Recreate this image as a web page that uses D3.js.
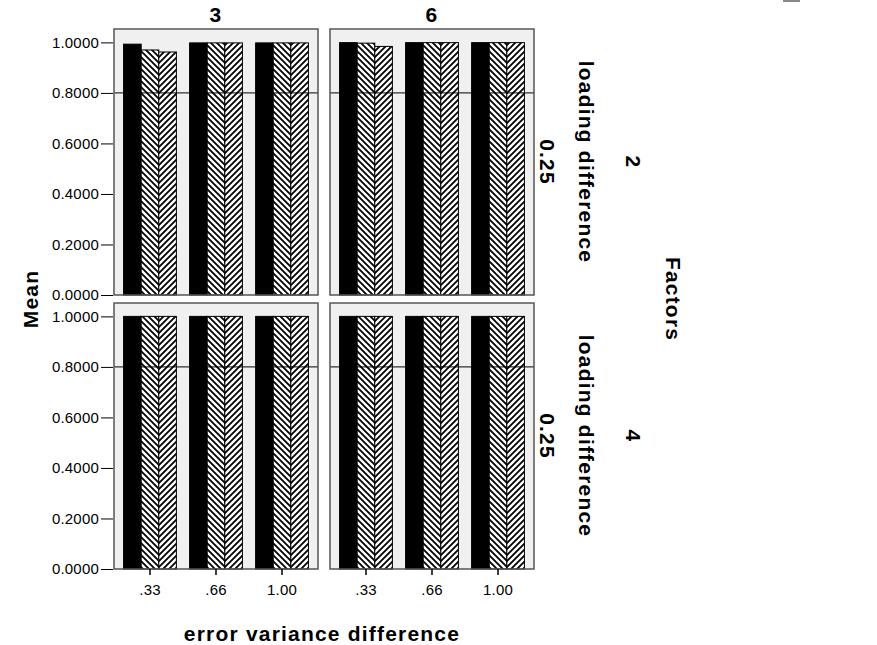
<!DOCTYPE html>
<html><head><meta charset="utf-8">
<script src="https://cdn.jsdelivr.net/npm/d3@7"></script>
<style>body{margin:0;background:#fff}svg{display:block}</style>
</head><body>
<script>
// ---- data ----
const errorLevels = [".33", ".66", "1.00"];
const factorCols = ["3", "6"];
const factorRows = ["2", "4"];
const loadingDiff = "0.25";
const seriesNames = ["s1", "s2", "s3"];
const yTicks = [0, 0.2, 0.4, 0.6, 0.8, 1.0];
const refValue = 0.8;
// values per panel: [series][errorLevel]
const valsRow2Col3 = [[0.993, 0.998, 0.998], [0.970, 0.998, 0.998], [0.962, 0.998, 0.998]];
const valsRow2Col6 = [[0.999, 0.999, 0.999], [0.997, 0.999, 0.999], [0.984, 0.999, 0.999]];
const valsRow4Col3 = [[1.0, 1.0, 1.0], [1.0, 1.0, 1.0], [1.0, 1.0, 1.0]];
const valsRow4Col6 = [[1.0, 1.0, 1.0], [1.0, 1.0, 1.0], [1.0, 1.0, 1.0]];
const panelValues = [[valsRow2Col3, valsRow2Col6], [valsRow4Col3, valsRow4Col6]];

const W = 877, H = 645;
const svg = d3.select("body").append("svg").attr("width", W).attr("height", H);
const defs = svg.append("defs");
function hatch(id, d) {
  const p = defs.append("pattern").attr("id", id).attr("patternUnits", "userSpaceOnUse")
    .attr("width", 6).attr("height", 6);
  p.append("rect").attr("width", 6).attr("height", 6).attr("fill", "#fff");
  p.append("path").attr("d", d).attr("stroke", "#000").attr("stroke-width", 1.8).attr("fill", "none");
}
hatch("hb", "M-1,-1L7,7M-1,5L1,7M5,-1L7,1");
hatch("hf", "M-1,7L7,-1M-1,1L1,-1M5,7L7,5");
const fills = ["#000", "url(#hb)", "url(#hf)"];

const panelW = 204, panelH = 266;
const colX = [114, 330];
const rowY = [29, 303];
const font = "'Liberation Sans', Arial, sans-serif";
const bold = (sel) => sel.attr("font-family", font).attr("font-weight", "bold").attr("font-size", 21)
  .attr("letter-spacing", 1.2).attr("fill", "#000");

panelValues.forEach((rowVals, ri) => {
  rowVals.forEach((vals, ci) => {
    const x0 = colX[ci], y0 = rowY[ri];
    const g = svg.append("g");
    const x = d3.scaleBand().domain(errorLevels).range([x0, x0 + panelW]).paddingInner(0.2).paddingOuter(0.145);
    const xs = d3.scaleBand().domain(seriesNames).range([0, x.bandwidth()]);
    const y = d3.scaleLinear().domain([0, 1.053]).range([y0 + panelH, y0]);
    g.append("rect").attr("x", x0).attr("y", y0).attr("width", panelW).attr("height", panelH)
      .attr("fill", "#f0f0f0");
    seriesNames.forEach((s, si) => {
      g.selectAll(null).data(errorLevels).join("rect")
        .attr("x", (d) => x(d) + xs(s))
        .attr("y", (d, i) => y(vals[si][i]))
        .attr("width", xs.bandwidth())
        .attr("height", (d, i) => y(0) - y(vals[si][i]))
        .attr("fill", fills[si]).attr("stroke", "#000").attr("stroke-width", 1);
    });
    g.append("line").attr("x1", x0).attr("x2", x0 + panelW).attr("y1", y(refValue)).attr("y2", y(refValue))
      .attr("stroke", "#000").attr("stroke-width", 1);
    g.append("rect").attr("x", x0).attr("y", y0).attr("width", panelW).attr("height", panelH)
      .attr("fill", "none").attr("stroke", "#555").attr("stroke-width", 1.5);
    if (ci === 0) {
      const ax = svg.append("g").attr("transform", `translate(${x0 - 1},0)`)
        .call(d3.axisLeft(y).tickValues(yTicks).tickFormat(d3.format(".4f")).tickSize(12).tickPadding(2));
      ax.select(".domain").remove();
      ax.selectAll("line").attr("stroke", "#000");
      ax.selectAll("text").attr("font-family", font).attr("font-size", 15).attr("letter-spacing", 0.2).attr("fill", "#000");
    }
    if (ri === 1) {
      const ax = svg.append("g").attr("transform", `translate(0,${y0 + panelH})`)
        .call(d3.axisBottom(x).tickSize(6).tickPadding(9));
      ax.select(".domain").remove();
      ax.selectAll("line").attr("stroke", "#000").attr("stroke-width", 1.5);
      ax.selectAll("text").attr("font-family", font).attr("font-size", 15).attr("letter-spacing", 0.2).attr("fill", "#000");
    }
    if (ri === 0) {
      svg.append("text").attr("x", x0 + panelW / 2).attr("y", 22).attr("text-anchor", "middle")
        .call(bold).text(factorCols[ci]);
    }
  });
  const cy = rowY[ri] + panelH / 2;
  const rt = (x, t) => svg.append("text").attr("transform", `translate(${x},${cy}) rotate(90)`)
    .attr("text-anchor", "middle").call(bold).text(t);
  rt(540, loadingDiff);
  rt(579, "loading difference");
  rt(626, factorRows[ri]);
});

svg.append("text").attr("transform", `translate(666,299) rotate(90)`).attr("text-anchor", "middle")
  .call(bold).text("Factors");
svg.append("text").attr("transform", `translate(38,299) rotate(-90)`).attr("text-anchor", "middle")
  .call(bold).text("Mean");
svg.append("text").attr("x", 322).attr("y", 641).attr("text-anchor", "middle")
  .call(bold).text("error variance difference");
svg.append("rect").attr("x", 783).attr("y", -4).attr("width", 17).attr("height", 6).attr("fill", "#888");
</script>
</body></html>
